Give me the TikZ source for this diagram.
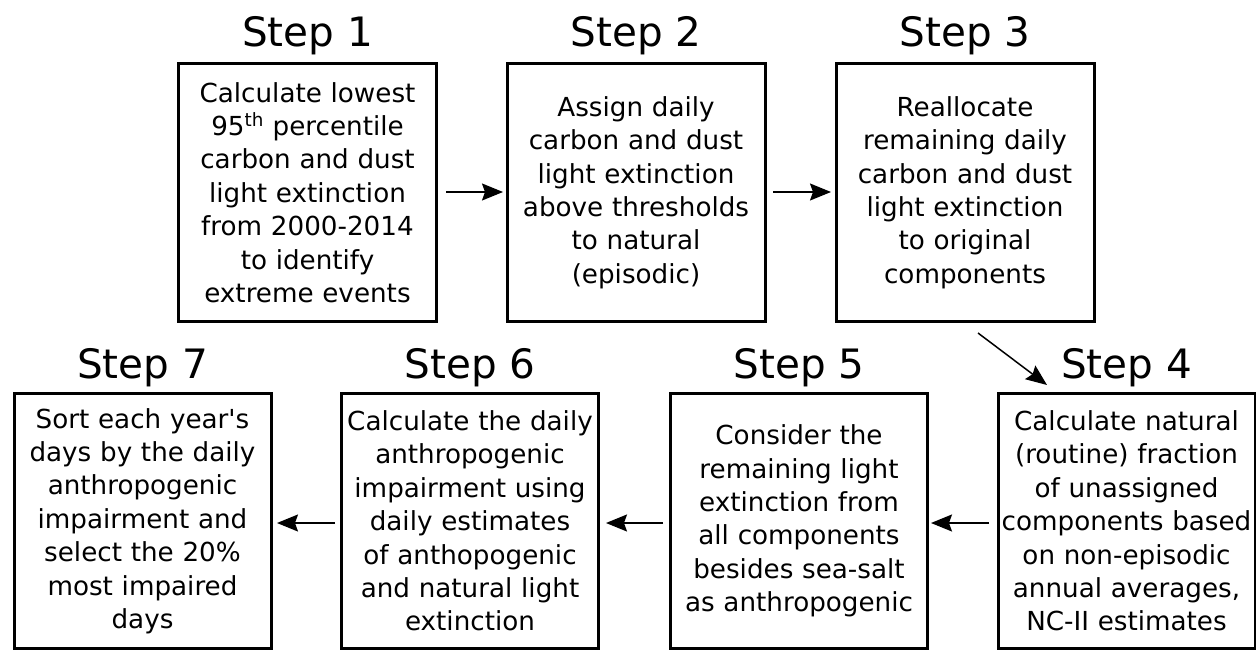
\documentclass[tikz,border=0pt]{standalone}
\usepackage{fontspec}
\setmainfont{DejaVu Sans}[Ligatures=TeXOff]
\usetikzlibrary{arrows.meta}
\tikzset{
  stepbox/.style={draw=black, line width=3pt, inner sep=0pt, align=center,
    text width=254pt, font=\fontsize{26.2}{33.4}\selectfont},
  topbox/.style={stepbox, minimum width=258pt, minimum height=258pt},
  botbox/.style={stepbox, minimum width=257pt, minimum height=255pt},
  steplabel/.style={anchor=base, inner sep=0pt, font=\fontsize{40.5}{44}\selectfont},
  flow/.style={line width=1.5pt, -{Stealth[length=21pt, width=17pt, inset=3pt]}}
}
\begin{document}
\begin{tikzpicture}[x=1pt, y=-1pt]
\useasboundingbox (0,0) rectangle (1256,650);
% top row
\node[topbox] (s1) at (307.5,192.5) {Calculate lowest\\95\textsuperscript{th} percentile\\carbon and dust\\light extinction\\from 2000-2014\\to identify\\extreme events};
\node[topbox] (s2) at (636,192.5) {Assign daily\\carbon and dust\\light extinction\\above thresholds\\to natural\\(episodic)};
\node[topbox] (s3) at (965,192.5) {Reallocate\\remaining daily\\carbon and dust\\light extinction\\to original\\components};
% bottom row
\node[botbox] (s7) at (142.5,521) {Sort each year's\\days by the daily\\anthropogenic\\impairment and\\select the 20\%\\most impaired\\days};
\node[botbox] (s6) at (470,521) {Calculate the daily\\anthropogenic\\impairment using\\daily estimates\\of anthopogenic\\and natural light\\extinction};
\node[botbox] (s5) at (799,521) {Consider the\\remaining light\\extinction from\\all components\\besides sea-salt\\as anthropogenic};
\node[botbox] (s4) at (1126.5,521) {Calculate natural\\(routine) fraction\\of unassigned\\components based\\on non-episodic\\annual averages,\\NC-II estimates};
% labels
\node[steplabel] (l1) at (307.5,47) {Step 1};
\node[steplabel] (l2) at (636,47) {Step 2};
\node[steplabel] (l3) at (965,47) {Step 3};
\node[steplabel] (l7) at (142.5,378) {Step 7};
\node[steplabel] (l6) at (470,378) {Step 6};
\node[steplabel] (l5) at (799,378) {Step 5};
\node[steplabel] (l4) at (1126.5,378) {Step 4};
% connectors
\coordinate (a1) at (446,192); \coordinate (b1) at (503,192);
\coordinate (a2) at (773,192); \coordinate (b2) at (831,192);
\coordinate (a3) at (978,333); \coordinate (b3) at (1047,385);
\coordinate (a4) at (989,523); \coordinate (b4) at (931,523);
\coordinate (a5) at (663,523); \coordinate (b5) at (606,523);
\coordinate (a6) at (335,523); \coordinate (b6) at (277,523);
\draw[flow] (a1) -- (b1);
\draw[flow] (a2) -- (b2);
\draw[flow] (a3) -- (b3);
\draw[flow] (a4) -- (b4);
\draw[flow] (a5) -- (b5);
\draw[flow] (a6) -- (b6);
\end{tikzpicture}
\end{document}
